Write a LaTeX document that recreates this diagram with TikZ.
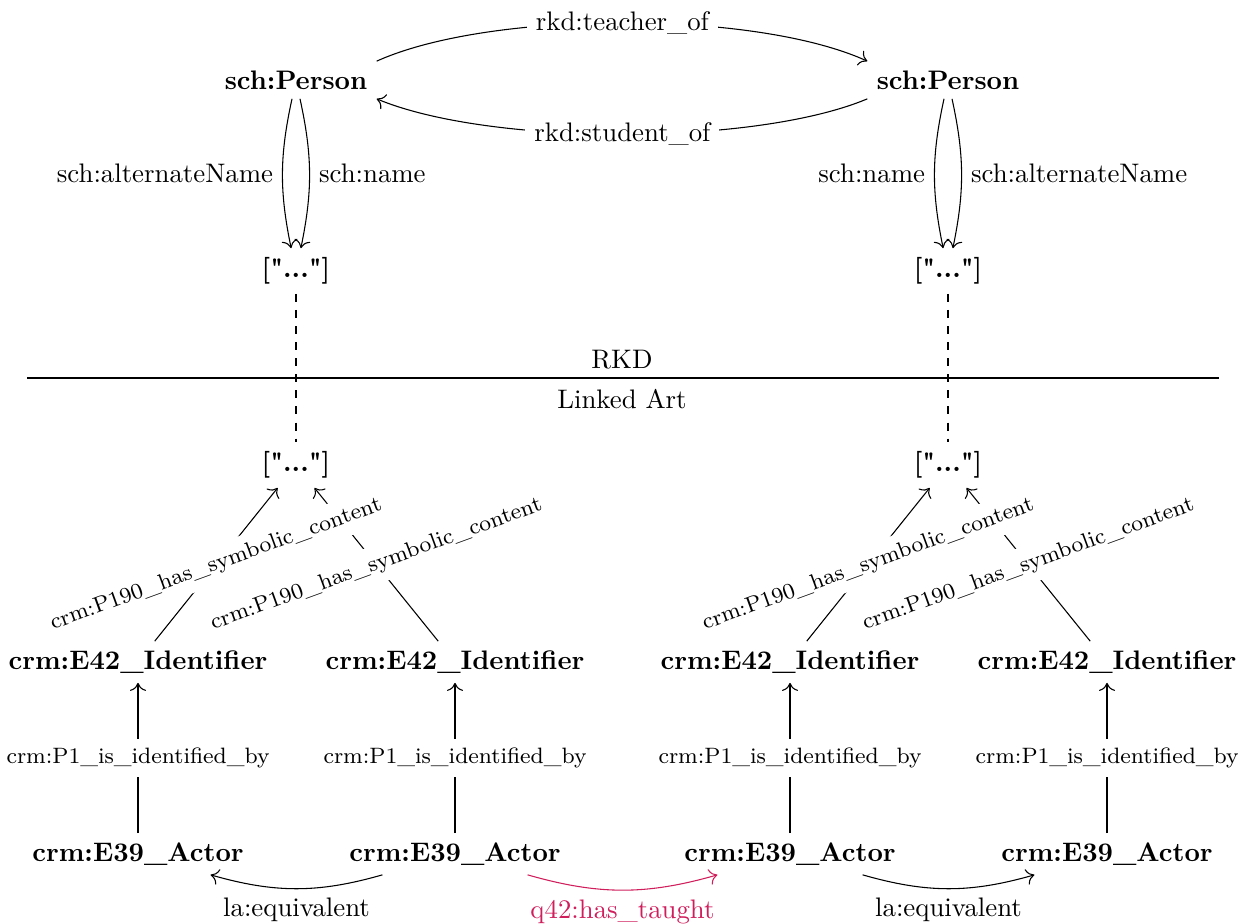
\documentclass[tikz,border=0pt]{standalone}
\usetikzlibrary{arrows.meta}
\definecolor{qred}{RGB}{208,30,92}
\newcommand{\litval}{[\textquotedbl...\textquotedbl]}
\begin{document}
\begin{tikzpicture}[x=0.3731pt, y=-0.3731pt,
  cls/.style={font=\bfseries},
  lit/.style={font=\bfseries},
  lbl/.style={font=\fontsize{8.3}{10}\selectfont, fill=white},
  rlbl/.style={font=\fontsize{8.3}{10}\selectfont, fill=white, rotate=20},
  edge/.style={->, >={To[length=3pt,width=6pt]}}
]
\useasboundingbox (0,0) rectangle (1245,923);

% RKD side
\node[cls] (p1) at (296,80) {sch:Person};
\node[cls] (p2) at (948,80) {sch:Person};
\node[lit] (v1) at (296,271) {\litval};
\node[lit] (v2) at (948,271) {\litval};

% Linked Art side
\node[lit] (w1) at (296,465) {\litval};
\node[lit] (w2) at (948,465) {\litval};
\node[cls] (i1) at (138,662) {crm:E42\_Identifier};
\node[cls] (i2) at (455,662) {crm:E42\_Identifier};
\node[cls] (i3) at (790,662) {crm:E42\_Identifier};
\node[cls] (i4) at (1107,662) {crm:E42\_Identifier};
\node[cls] (a1) at (138,854) {crm:E39\_Actor};
\node[cls] (a2) at (455,854) {crm:E39\_Actor};
\node[cls] (a3) at (790,854) {crm:E39\_Actor};
\node[cls] (a4) at (1107,854) {crm:E39\_Actor};

% divider
\coordinate (dl) at (27,378);
\coordinate (dr) at (1219,378);
\draw (dl) -- (dr);
\node (rkd) at (622,360) {RKD};
\node (la) at (622,399) {Linked Art};

% top edges
\draw[edge] (p1.north east) .. controls (490,10) and (755,10) .. node[fill=white] {rkd:teacher\_of} (p2.north west);
\draw[edge] (p2.south west) .. controls (755,146) and (490,146) .. node[fill=white] {rkd:student\_of} (p1.south east);

\draw[edge] (p1) to[bend right=12] node[left] {sch:alternateName} (v1);
\draw[edge] (p1) to[bend left=12] node[right] {sch:name} (v1);
\draw[edge] (p2) to[bend right=12] node[left] {sch:name} (v2);
\draw[edge] (p2) to[bend left=12] node[right] {sch:alternateName} (v2);

% dashed links
\draw[dashed] (v1) -- (w1);
\draw[dashed] (v2) -- (w2);

% identifiers: lines first, then labels on top
\draw[edge] (i1) -- (w1);
\draw[edge] (i2) -- (w1);
\draw[edge] (i3) -- (w2);
\draw[edge] (i4) -- (w2);
\path (i1) -- node[rlbl] {crm:P190\_has\_symbolic\_content} (w1);
\path (i2) -- node[rlbl] {crm:P190\_has\_symbolic\_content} (w1);
\path (i3) -- node[rlbl] {crm:P190\_has\_symbolic\_content} (w2);
\path (i4) -- node[rlbl] {crm:P190\_has\_symbolic\_content} (w2);

\draw[edge] (a1) -- node[lbl] {crm:P1\_is\_identified\_by} (i1);
\draw[edge] (a2) -- node[lbl] {crm:P1\_is\_identified\_by} (i2);
\draw[edge] (a3) -- node[lbl] {crm:P1\_is\_identified\_by} (i3);
\draw[edge] (a4) -- node[lbl] {crm:P1\_is\_identified\_by} (i4);

% bottom edges
\draw[edge] (a2) to[bend left=16] node[below] {la:equivalent} (a1);
\draw[edge, qred] (a2) to[bend right=16] node[below] {q42:has\_taught} (a3);
\draw[edge] (a3) to[bend right=16] node[below] {la:equivalent} (a4);
\end{tikzpicture}
\end{document}
